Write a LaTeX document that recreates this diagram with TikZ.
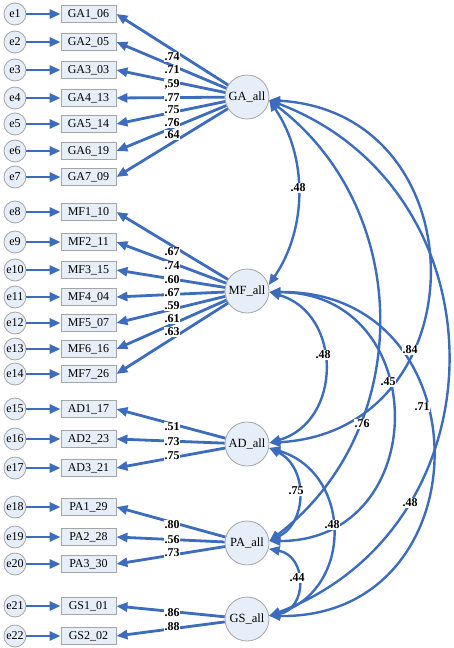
\documentclass[tikz,border=0pt]{standalone}
\usepackage{fontspec}
\setmainfont{Liberation Serif}
\usetikzlibrary{arrows.meta}
\definecolor{amosblue}{RGB}{59,108,190}
\definecolor{nodefill}{RGB}{230,238,249}
\definecolor{nodeedge}{RGB}{165,165,165}
\begin{document}
\begin{tikzpicture}[x=1pt,y=-1pt,
  errnode/.style={circle,draw=nodeedge,line width=0.8pt,fill=nodefill,minimum size=22pt,inner sep=0pt,font=\fontsize{12}{14}\selectfont},
  obsnode/.style={rectangle,draw=nodeedge,line width=0.8pt,fill=nodefill,minimum width=55pt,minimum height=17pt,inner sep=0pt,font=\fontsize{12}{14}\selectfont},
  latnode/.style={circle,draw=nodeedge,line width=0.8pt,fill=nodefill,minimum size=44pt,inner sep=0pt,font=\fontsize{12.5}{14}\selectfont},
  reg/.style={draw=amosblue,line width=2.8pt,-{Triangle[length=11pt,width=9pt]}},
  cov/.style={draw=amosblue,line width=2.4pt,{Triangle[length=11pt,width=9pt]}-{Triangle[length=11pt,width=9pt]}},
  coef/.style={font=\bfseries\fontsize{12}{14}\selectfont,fill=white,inner sep=0.6pt},
]
\useasboundingbox (0,0) rectangle (454,648);

% latent factors
\node[latnode] (GA) at (247,97) {GA\_all};
\node[latnode] (MF) at (247,291) {MF\_all};
\node[latnode] (AD) at (247,444) {AD\_all};
\node[latnode] (PA) at (247,543) {PA\_all};
\node[latnode] (GS) at (247,619) {GS\_all};

% indicators and errors
\foreach \e/\b/\t/\y/\L in {
  e1/GA1/GA1\_06/14/GA, e2/GA2/GA2\_05/42/GA, e3/GA3/GA3\_03/70/GA,
  e4/GA4/GA4\_13/98/GA, e5/GA5/GA5\_14/124/GA, e6/GA6/GA6\_19/151/GA,
  e7/GA7/GA7\_09/177/GA,
  e8/MF1/MF1\_10/212/MF, e9/MF2/MF2\_11/242/MF, e10/MF3/MF3\_15/270/MF,
  e11/MF4/MF4\_04/297/MF, e12/MF5/MF5\_07/323/MF, e13/MF6/MF6\_16/349/MF,
  e14/MF7/MF7\_26/374/MF,
  e15/AD1/AD1\_17/409/AD, e16/AD2/AD2\_23/439/AD, e17/AD3/AD3\_21/468/AD,
  e18/PA1/PA1\_29/507/PA, e19/PA2/PA2\_28/537/PA, e20/PA3/PA3\_30/564/PA,
  e21/GS1/GS1\_01/606/GS, e22/GS2/GS2\_02/636/GS}{
  \node[errnode] (\e) at (15,\y) {\e};
  \node[obsnode] (\b) at (88.5,\y) {\t};
  \draw[reg] (\e) -- (\b);
  \draw[reg] (\L) -- (\b.east);
}

% covariances
\draw[cov] (GA.-8) .. controls +(38.7,56.7) and +(38.7,-56.7) .. (MF.15);
\draw[cov] (MF.-3) .. controls +(73.3,21.5) and +(73.3,-21.5) .. (AD.3);
\draw[cov] (AD.-10) .. controls +(38.7,19) and +(38.7,-19) .. (PA.5);
\draw[cov] (PA.-15) .. controls +(38.6,7.3) and +(38.6,-7.3) .. (GS.8);
\draw[cov] (AD.-10) .. controls +(84,25) and +(84,-25) .. (GS.8);
\draw[cov] (MF.-3) .. controls +(164,0) and +(164,0) .. (PA.5);
\draw[cov] (MF.-3) .. controls +(217,-3) and +(217,3) .. (GS.8);
\draw[cov] (GA.-8) .. controls +(212,12.3) and +(212,-12.3) .. (AD.3);
\draw[cov] (GA.-8) .. controls +(145.3,110.7) and +(145.3,-110.7) .. (PA.5);
\draw[cov] (GA.-8) .. controls +(237.3,90.2) and +(237.3,-90.2) .. (GS.8);

% loadings
\foreach \n/\y/\v in {a1/57/.74, a2/70/.71, a3/84/{,59}, a4/98/.77, a5/110/.75, a6/123/.76, a7/135/.64,
  m1/252/.67, m2/266/.74, m3/280/.60, m4/293/.67, m5/306/.59, m6/319/.61, m7/332/.63,
  d1/427/.51, d2/442/.73, d3/456/.75,
  p1/525/.80, p2/540/.56, p3/553/.73,
  g1/613/.86, g2/627/.88}{
  \node[coef] (\n) at (172,\y) {\v};
}

% correlations
\node[coef] (r1) at (298,188) {.48};
\node[coef] (r2) at (323,355) {.48};
\node[coef] (r3) at (410,350) {.84};
\node[coef] (r4) at (388,382) {.45};
\node[coef] (r5) at (362,424) {.76};
\node[coef] (r6) at (422,407) {.71};
\node[coef] (r7) at (296,491) {.75};
\node[coef] (r8) at (332,525) {.48};
\node[coef] (r9) at (410,503) {.48};
\node[coef] (r10) at (297,578) {.44};
\end{tikzpicture}
\end{document}
